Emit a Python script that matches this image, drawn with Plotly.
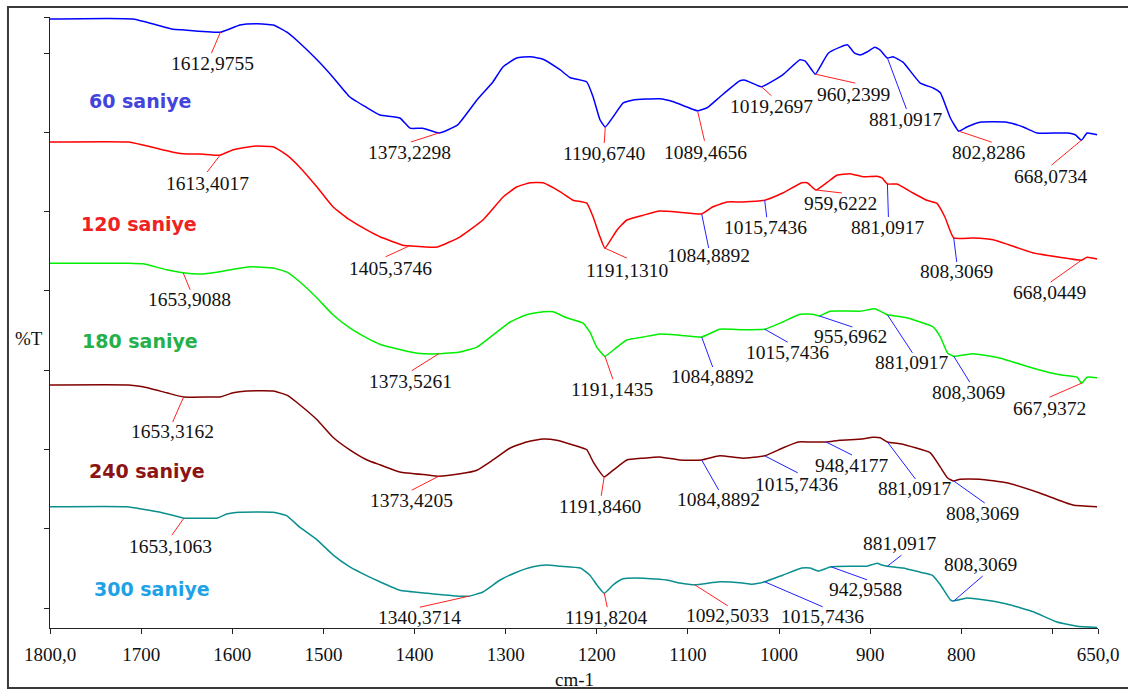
import numpy as np
import plotly.graph_objects as go

# ---------------- data (wavenumber cm-1, %T offset scale) ----------------
wn_60 = [1800, 1709, 1665, 1655, 1613, 1591.5, 1573, 1555, 1540, 1526, 1507, 1489.5, 1471, 1452, 1438,
         1416, 1405, 1391, 1373.2, 1353, 1331.5, 1314, 1303, 1288, 1273, 1259, 1240, 1229, 1211, 1204,
         1196.5, 1190.7, 1182, 1171, 1160, 1131, 1116, 1089.5, 1079, 1065, 1043, 1037, 1019.3, 996, 977,
         971.5, 964, 960.2, 946, 933, 925, 917, 911, 903.5, 895, 889, 881.1, 875, 864, 845,
         831, 823, 812, 802.8, 794, 779.5, 750, 732, 717, 684, 675, 668.1, 662, 651]
t_60 = [101.5, 101.5, 99.8, 99.7, 99.3, 100.5, 100.7, 100.5, 99.3, 97.5, 94.7, 91.8, 88.5, 86.7, 85.5,
        85.0, 83.3, 83.3, 82.5, 83.8, 88.0, 91.0, 93.5, 95.0, 95.2, 94.8, 93.0, 91.7, 91.0, 88.5,
        84.7, 83.5, 85.2, 87.5, 88.0, 88.2, 87.7, 86.2, 86.7, 88.5, 91.2, 91.3, 90.2, 92.2, 94.7,
        94.5, 93.0, 92.3, 95.8, 96.8, 97.2, 95.8, 95.5, 96.0, 96.8, 96.3, 95.0, 95.2, 94.3, 90.8,
        90.0, 89.2, 85.0, 82.8, 83.5, 84.3, 84.3, 83.5, 82.5, 82.5, 82.2, 81.3, 82.5, 82.2]

wn_120 = [1800, 1714, 1698, 1665, 1650, 1635, 1613.4, 1599, 1577, 1555, 1540, 1526, 1507, 1489.5, 1471,
          1452, 1438, 1413, 1405.4, 1375, 1350, 1325, 1303, 1288, 1273, 1259, 1240, 1226, 1211, 1204,
          1196.5, 1191.1, 1178, 1167, 1149, 1131, 1109, 1084.9, 1072.5, 1057, 1040, 1015.7, 996, 975, 969,
          959.6, 947, 936, 922, 908, 892.5, 887, 881.1, 870.6, 853, 838, 827, 818, 808.3, 787,
          765, 721, 692, 668, 662, 651]
t_120 = [81.0, 81.0, 80.5, 79.3, 79.0, 79.0, 78.8, 79.7, 80.3, 80.2, 78.8, 76.8, 73.5, 70.2, 68.0,
         66.3, 65.2, 63.8, 63.7, 63.5, 65.2, 68.0, 71.8, 73.5, 74.2, 74.2, 72.7, 71.3, 70.8, 68.5,
         65.2, 63.3, 66.3, 68.0, 68.8, 69.5, 69.3, 69.0, 70.2, 71.0, 71.0, 71.3, 72.5, 74.2, 74.2,
         73.0, 74.3, 75.5, 75.7, 75.2, 75.3, 75.0, 74.0, 74.0, 72.5, 71.3, 70.8, 68.5, 65.0, 65.0,
         64.7, 62.5, 61.8, 61.3, 61.8, 61.5]

wn_180 = [1800, 1714, 1698, 1672, 1654, 1635, 1617, 1599, 1580.5, 1555, 1540, 1526, 1507, 1489.5, 1471,
          1452, 1438, 1424, 1397, 1373.5, 1350, 1331.5, 1314, 1295, 1277, 1259, 1248, 1233, 1215, 1207.5,
          1200, 1191.1, 1178, 1167, 1149, 1131, 1109, 1084.9, 1065, 1040, 1015.7, 996, 977, 963, 955.7,
          944, 911, 895, 889, 881.1, 860, 831, 823, 815, 808.3, 787, 758, 721, 692, 673,
          667.9, 662, 651]
t_180 = [60.8, 60.8, 60.7, 59.7, 59.2, 59.0, 59.3, 59.8, 60.2, 60.0, 59.3, 57.7, 55.0, 52.2, 50.0,
         48.3, 47.3, 46.7, 45.8, 45.7, 46.0, 46.8, 48.8, 51.0, 52.2, 52.7, 52.7, 51.7, 50.8, 49.3,
         46.8, 45.3, 46.8, 48.0, 48.5, 49.0, 48.8, 48.5, 49.8, 49.7, 49.8, 51.0, 52.3, 52.3, 52.0,
         52.8, 52.8, 53.2, 52.8, 52.2, 51.7, 50.2, 48.5, 45.8, 45.3, 45.7, 45.0, 43.3, 42.2, 41.8,
         40.8, 41.8, 41.7]

wn_240 = [1800, 1714, 1698, 1672, 1653.3, 1624, 1613.5, 1599, 1584, 1555, 1540, 1526, 1507, 1489.5, 1471,
          1452, 1438, 1416, 1386, 1373.4, 1350, 1331.5, 1314, 1295, 1277, 1259, 1244, 1226, 1211, 1204,
          1191.8, 1182, 1167, 1149, 1131, 1109, 1084.9, 1065, 1040, 1015.7, 996, 979, 966, 948.4, 933,
          909, 897, 889, 881.1, 867, 834, 823, 815, 808.3, 801.5, 779.5, 750, 714, 677.5, 651]
t_240 = [40.5, 40.5, 40.2, 39.2, 38.5, 38.5, 38.5, 39.2, 39.5, 39.5, 38.8, 37.2, 34.7, 31.8, 29.7,
         28.0, 27.2, 26.0, 25.5, 25.3, 25.7, 26.3, 28.0, 30.0, 31.0, 31.5, 31.3, 30.5, 29.7, 27.7,
         25.2, 26.3, 28.0, 28.3, 28.5, 28.0, 28.0, 28.7, 28.3, 28.7, 30.0, 31.0, 31.0, 31.0, 31.3,
         31.5, 31.8, 31.7, 31.0, 30.7, 29.2, 26.8, 25.0, 24.5, 24.8, 24.8, 24.2, 22.5, 20.5, 20.2]

wn_300 = [1800, 1715.5, 1698, 1679, 1653.1, 1635, 1617, 1606, 1591.5, 1555, 1540, 1526, 1507, 1489.5, 1471,
          1452, 1438, 1416, 1386, 1350, 1340.4, 1325, 1306, 1288, 1270, 1255, 1240, 1218, 1207.5, 1200,
          1191.8, 1182, 1171, 1149, 1123, 1109, 1092.5, 1065, 1040, 1030, 1015.7, 996, 975, 966, 957,
          943, 922, 903.5, 892.5, 887, 881.1, 864, 845, 832, 823, 812, 808.3, 794, 776, 750,
          721, 695, 673, 651]
t_300 = [20.2, 20.2, 19.8, 19.3, 18.3, 18.3, 18.3, 19.0, 19.3, 19.3, 18.7, 16.8, 14.7, 12.2, 10.2,
         8.7, 7.7, 6.3, 5.8, 5.3, 5.3, 6.0, 8.0, 9.3, 10.2, 10.5, 10.3, 10.0, 8.8, 7.2,
         5.8, 7.2, 8.2, 8.3, 8.0, 7.5, 7.2, 7.7, 7.5, 7.3, 7.7, 8.8, 10.0, 10.0, 9.5,
         10.2, 10.3, 10.3, 10.8, 10.5, 10.3, 10.0, 9.3, 8.8, 7.2, 4.7, 4.5, 5.0, 4.7, 4.0,
         2.7, 1.0, 0.3, 0.1]

series_names = ["60 saniye", "120 saniye", "180 saniye", "240 saniye", "300 saniye"]

# peak labels (wavenumbers) per series
peaks_60 = [1612.9755, 1373.2298, 1190.6740, 1089.4656, 1019.2697, 960.2399, 881.0917, 802.8286, 668.0734]
peaks_120 = [1613.4017, 1405.3746, 1191.1310, 1084.8892, 1015.7436, 959.6222, 881.0917, 808.3069, 668.0449]
peaks_180 = [1653.9088, 1373.5261, 1191.1435, 1084.8892, 1015.7436, 955.6962, 881.0917, 808.3069, 667.9372]
peaks_240 = [1653.3162, 1373.4205, 1191.8460, 1084.8892, 1015.7436, 948.4177, 881.0917, 808.3069]
peaks_300 = [1653.1063, 1340.3714, 1191.8204, 1092.5033, 1015.7436, 942.9588, 881.0917, 808.3069]

x_tickvals = [1800, 1700, 1600, 1500, 1400, 1300, 1200, 1100, 1000, 900, 800, 700, 650]
x_ticktext = ["1800,0", "1700", "1600", "1500", "1400", "1300", "1200", "1100", "1000", "900", "800", "", "650,0"]

# ---------------- styles ----------------
line_colors = ["#0000ff", "#ff0000", "#00ee00", "#800000", "#0a8f8f"]
label_colors = ["#4444dc", "#ee2222", "#25b04a", "#8b1414", "#1ea2e6"]
label_pos = [(0.0353, 0.8625), (0.0277, 0.6612), (0.0286, 0.4697), (0.0353, 0.2570), (0.0401, 0.0638)]

# per peak: (line colour, line dx, line dy, text dx, text dy) in pixels
R, B = "#ff2020", "#2020ff"
peak_style = [
    [(R, -9, -21, -8, -31), (R, -28, -9, -29, -20), (R, -1, -16, -1, -27), (R, 7, -30, 8, -42),
     (R, 10, -9, 10, -20), (R, 40, -9, 38, -20), (B, 19, -51, 18, -62), (R, 33, -11, 30, -21),
     (R, -30, -25, -31, -36)],
    [(R, -13, -17, -13, -28), (R, -24, -11, -19, -23), (R, 22, -10, 22, -22), (B, 7, -34, 7, -42),
     (B, 2, -17, 1, -27), (R, 26, -3, 25, -14), (B, 1, -33, 0, -44), (B, 3, -24, 3, -34),
     (R, -31, -22, -32, -32)],
    [(R, 7, -17, 6, -27), (R, -27, -17, -28, -28), (R, 8, -23, 7, -33), (B, 11, -30, 11, -40),
     (B, 23, -13, 23, -23), (B, 33, -11, 31, -21), (B, 25, -38, 24, -48), (B, 16, -26, 15, -36),
     (R, -32, -14, -32, -25)],
    [(R, -11, -25, -11, -35), (R, -27, -14, -27, -24), (R, -3, -19, -4, -30), (B, 17, -30, 17, -40),
     (B, 33, -17, 32, -29), (B, 26, -13, 25, -24), (B, 28, -37, 27, -47), (B, 31, -22, 29, -33)],
    [(R, -12, -17, -13, -28), (R, -49, -11, -49, -21), (R, 3, -14, 2, -24), (R, 33, -21, 33, -31),
     (B, 58, -25, 58, -35), (B, 36, -13, 34, -23), (B, 14, 11, 12, 23), (B, 29, 25, 27, 37)],
]

WN = [wn_60, wn_120, wn_180, wn_240, wn_300]
TT = [t_60, t_120, t_180, t_240, t_300]
PK = [peaks_60, peaks_120, peaks_180, peaks_240, peaks_300]

SERIF = "Liberation Serif"
fig = go.Figure()
shapes = []
annotations = []

for i in range(5):
    fig.add_trace(go.Scatter(x=WN[i], y=TT[i], mode="lines", name=series_names[i],
                             line=dict(color=line_colors[i], width=1.5, shape="spline", smoothing=0.4),
                             cliponaxis=False, hoverinfo="skip"))
    xs = np.array(WN[i][::-1], dtype=float)
    ys = np.array(TT[i][::-1], dtype=float)
    for pk, (col, ldx, ldy, tdx, tdy) in zip(PK[i], peak_style[i]):
        yv = float(np.interp(pk, xs, ys))
        shapes.append(dict(type="line", xref="x", yref="y", xsizemode="pixel", ysizemode="pixel",
                           xanchor=pk, yanchor=yv, x0=0, y0=0, x1=ldx, y1=ldy,
                           line=dict(color=col, width=1)))
        annotations.append(dict(x=pk, y=yv, xref="x", yref="y", xshift=tdx, yshift=tdy,
                                text=f"{pk:.4f}".replace(".", ","), showarrow=False,
                                xanchor="center", yanchor="middle",
                                font=dict(family=SERIF, size=19.5, color="#111111")))
    annotations.append(dict(x=label_pos[i][0], y=label_pos[i][1], xref="paper", yref="paper",
                            text=f"<b>{series_names[i]}</b>", showarrow=False,
                            xanchor="left", yanchor="middle",
                            font=dict(family="DejaVu Sans", size=19, color=label_colors[i])))

annotations.append(dict(x=-0.02, y=0.4746, xref="paper", yref="paper", text="%T", showarrow=False,
                        xanchor="center", yanchor="middle", font=dict(family=SERIF, size=19, color="#111111")))
annotations.append(dict(x=0.5, y=-0.0851, xref="paper", yref="paper", text="cm-1", showarrow=False,
                        xanchor="center", yanchor="middle", font=dict(family=SERIF, size=19, color="#111111")))

# outer frame (right side lies beyond the visible page, as in the reference)
shapes.append(dict(type="rect", xref="paper", yref="paper", x0=-0.0401, x1=1.2, y0=-0.0982, y1=1.0164,
                   line=dict(color="#3a3a3a", width=2), fillcolor="rgba(0,0,0,0)", layer="below"))

fig.update_layout(
    template="none",
    width=1128, height=691,
    margin=dict(l=50, r=30, t=17, b=63, autoexpand=False),
    paper_bgcolor="white", plot_bgcolor="white",
    showlegend=False,
    shapes=shapes, annotations=annotations,
    xaxis=dict(range=[1800, 650], tickvals=x_tickvals, ticktext=x_ticktext, showgrid=False, zeroline=False,
               showline=True, linecolor="#222222", linewidth=1, ticks="outside", ticklen=5,
               tickcolor="#222222", ticklabelstandoff=4,
               tickfont=dict(family=SERIF, size=19, color="#111111")),
    yaxis=dict(range=[0, 101.83], tickvals=[3.33, 16.54, 29.75, 42.96, 56.17, 69.38, 82.59, 95.8, 101.83],
               showticklabels=False, showgrid=False, zeroline=False, showline=True, linecolor="#222222",
               linewidth=1, ticks="outside", ticklen=5, tickcolor="#222222"),
)

fig.write_html("out.html", config={"displayModeBar": False},
               post_script="document.body.style.margin='0';document.body.style.overflow='hidden';")
